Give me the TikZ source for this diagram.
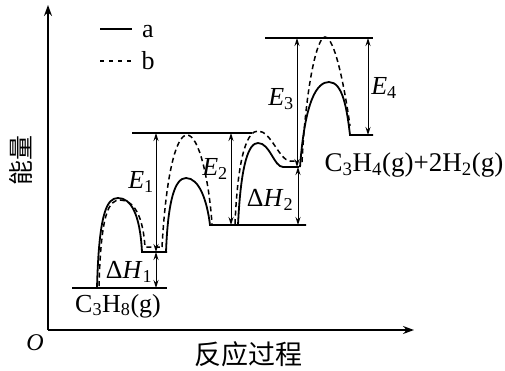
\documentclass[tikz,border=0pt]{standalone}
\usepackage{fontspec}
\setmainfont{Liberation Serif}
\newfontfamily\cjk{Noto Sans CJK SC}
\usetikzlibrary{arrows.meta}
\begin{document}
\begin{tikzpicture}[x=1pt,y=-1pt,
  axis/.style={line width=1.4pt,-{Stealth[length=11pt,width=8pt]}},
  curve/.style={line width=1.8pt},
  dcurve/.style={line width=1.5pt,dash pattern=on 5pt off 3.5pt},
  lvl/.style={line width=1.4pt},
  dimarrow/.style={line width=1pt,{Stealth[length=8pt,width=5pt]}-{Stealth[length=8pt,width=5pt]}},
  lab/.style={font=\fontsize{26}{26}\selectfont,inner sep=0pt},
  chem/.style={font=\fontsize{26}{26}\selectfont,inner sep=0pt},
  cjklab/.style={font=\cjk\fontsize{27}{27}\selectfont,inner sep=0pt}]
\useasboundingbox (0,0) rectangle (505,370);
% axes
\coordinate (O) at (48,330);
\coordinate (ytop) at (48,5);
\coordinate (xend) at (414,330);
\draw[axis] (O) -- (ytop);
\draw[axis] (O) -- (xend);
\node[lab,font=\fontsize{24}{24}\selectfont\itshape] (olab) at (35,343) {O};
\node[cjklab] (xlab) at (248,354) {反应过程};
\node[cjklab,rotate=90,font=\cjk\fontsize{25}{25}\selectfont] (ylab) at (21,160) {能量};
% legend
\coordinate (la1) at (100,29); \coordinate (la2) at (132,29);
\coordinate (lb1) at (100,61); \coordinate (lb2) at (132,61);
\draw[line width=1.4pt] (la1) -- (la2);
\draw[line width=1.4pt,dash pattern=on 4pt off 5pt] (lb1) -- (lb2);
\node[lab,anchor=base] (a) at (148,37) {a};
\node[lab,anchor=base] (b) at (148,69) {b};
% levels
\coordinate (L0a) at (72,288); \coordinate (L0b) at (167,288);
\coordinate (T1a) at (132,133); \coordinate (T1b) at (252,133);
\coordinate (T2a) at (265,38); \coordinate (T2b) at (373,38);
\draw[lvl] (L0a) -- (L0b);
\draw[lvl] (T1a) -- (T1b);
\draw[lvl] (T2a) -- (T2b);
% solid path a
\draw[curve] (97,288) .. controls (99,212) and (107,198) .. (118,198)
  .. controls (131,198) and (140,214) .. (142,252) -- (167,252);
\draw[curve] (166,252) .. controls (168,200) and (175,178) .. (186,178)
  .. controls (199,178) and (207,200) .. (210,225) -- (306,225);
\draw[curve] (238,225) .. controls (241,162) and (249,143) .. (258,143)
  .. controls (270,143) and (274,167) .. (283,167) -- (299,167);
\draw[curve] (300,167) .. controls (305,100) and (317,82) .. (329,82)
  .. controls (343,82) and (347,110) .. (350,135) -- (373,135);
% dashed path b
\draw[dcurve] (99,286) .. controls (101,212) and (109,200) .. (120,200)
  .. controls (134,200) and (143,216) .. (145,247) -- (160,247);
\draw[dcurve] (162,247) .. controls (166,175) and (176,135) .. (187,135)
  .. controls (199,135) and (209,180) .. (212,224);
\draw[dcurve] (235,224) .. controls (238,152) and (248,131) .. (258,131)
  .. controls (271,131) and (279,160) .. (290,161) -- (298,161);
\draw[dcurve] (302,162) .. controls (306,85) and (317,37) .. (325,37)
  .. controls (335,37) and (345,90) .. (350,126);
% dimension arrows
\coordinate (E1t) at (156,133); \coordinate (E1b) at (156,252);
\coordinate (H1b) at (156,288);
\coordinate (E2t) at (231,133); \coordinate (E2b) at (231,225);
\coordinate (H2t) at (298,167); \coordinate (H2b) at (298,225);
\coordinate (E3t) at (297,38); \coordinate (E3b) at (297,167);
\coordinate (E4t) at (368,38); \coordinate (E4b) at (368,135);
\draw[dimarrow] (E1t) -- (E1b);
\draw[dimarrow] (E1b) -- (H1b);
\draw[dimarrow] (E2t) -- (E2b);
\draw[dimarrow] (H2t) -- (H2b);
\draw[dimarrow] (E3t) -- (E3b);
\draw[dimarrow] (E4t) -- (E4b);
% labels
\node[lab] (e1) at (141,182) {\textit{E}\textsubscript{1}};
\node[lab] (e2) at (215,169) {\textit{E}\textsubscript{2}};
\node[lab] (e3) at (281,99) {\textit{E}\textsubscript{3}};
\node[lab] (e4) at (384,88) {\textit{E}\textsubscript{4}};
\node[lab] (h1) at (129,272) {Δ\textit{H}\textsubscript{1}};
\node[lab] (h2) at (270,200) {Δ\textit{H}\textsubscript{2}};
\node[chem] (r) at (118,306) {C\textsubscript{3}H\textsubscript{8}(g)};
\node[chem,font=\fontsize{27}{27}\selectfont] (p) at (414,165) {C\textsubscript{3}H\textsubscript{4}(g)+2H\textsubscript{2}(g)};
\end{tikzpicture}
\end{document}
